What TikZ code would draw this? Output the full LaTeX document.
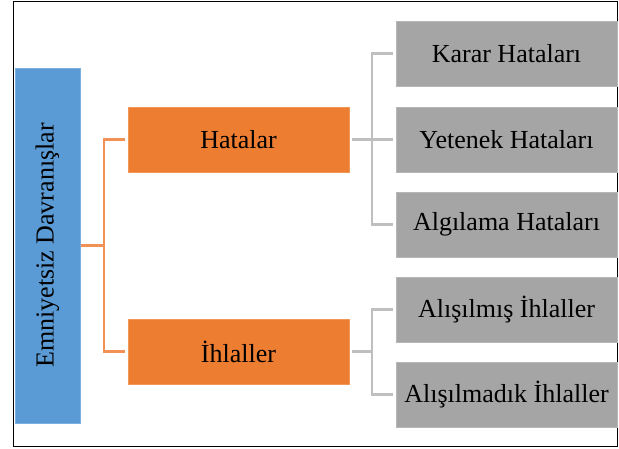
\documentclass[tikz,border=0pt]{standalone}
\usepackage{fontspec}
\setmainfont{Liberation Serif}
\definecolor{cblue}{HTML}{5B9BD5}
\definecolor{corange}{HTML}{ED7D31}
\definecolor{cgray}{HTML}{A5A5A5}
\definecolor{lorange}{HTML}{F29155}
\definecolor{lgray}{HTML}{BFBFBF}
\begin{document}
\begin{tikzpicture}[x=1pt,y=-1pt,
  txt/.style={font=\fontsize{26}{30}\selectfont, text=black, inner sep=0pt, outer sep=0pt},
  bluebox/.style={txt, fill=cblue, draw=cblue!80!white, line width=0.8pt},
  orbox/.style={txt, fill=corange, draw=corange!80!white, line width=0.8pt},
  grbox/.style={txt, fill=cgray, draw=cgray!80!white, line width=0.8pt},
  olink/.style={draw=lorange, line width=2.2pt},
  glink/.style={draw=lgray, line width=2.2pt}]
\useasboundingbox (0,0) rectangle (619,448);
\draw[line width=1.5pt] (13.5,1.5) rectangle (617.5,446.5);
% root
\node[bluebox, minimum width=65pt, minimum height=355pt, anchor=north west] (root) at (15,68) {};
\node[txt, rotate=90] at (root.center) {Emniyetsiz Davranışlar};
% level 1
\node[orbox, minimum width=221pt, minimum height=65pt, anchor=north west] (hat) at (128,107) {Hatalar};
\node[orbox, minimum width=221pt, minimum height=65pt, anchor=north west] (ihl) at (128,319) {İhlaller};
% level 2
\node[grbox, minimum width=221pt, minimum height=65pt, anchor=north west] (k1) at (396,21) {Karar Hataları};
\node[grbox, minimum width=221pt, minimum height=65pt, anchor=north west] (k2) at (396,107) {Yetenek Hataları};
\node[grbox, minimum width=221pt, minimum height=65pt, anchor=north west] (k3) at (396,192) {Algılama Hataları};
\node[grbox, minimum width=221pt, minimum height=65pt, anchor=north west] (k4) at (396,277) {Alışılmış İhlaller};
\node[grbox, minimum width=221pt, minimum height=65pt, anchor=north west] (k5) at (396,362) {Alışılmadık İhlaller};
% orange connectors
\coordinate (ob) at (104,245.5);
\draw[olink] (root.east) ++(1,0) -- (ob);
\draw[olink] ([xshift=-3pt]hat.west) -- (hat.west -| ob) -- (ihl.west -| ob) -- ([xshift=-3pt]ihl.west);
% gray connectors
\coordinate (g1) at (372,139);
\draw[glink] ([xshift=3pt]hat.east) -- (hat.east -| g1);
\draw[glink] ([xshift=-3pt]k1.west) -- (k1.west -| g1) -- (k3.west -| g1) -- ([xshift=-3pt]k3.west);
\draw[glink] ([xshift=-3pt]k2.west) -- (k2.west -| g1);
\draw[glink] ([xshift=3pt]ihl.east) -- (ihl.east -| g1);
\draw[glink] ([xshift=-3pt]k4.west) -- (k4.west -| g1) -- (k5.west -| g1) -- ([xshift=-3pt]k5.west);
\end{tikzpicture}
\end{document}
